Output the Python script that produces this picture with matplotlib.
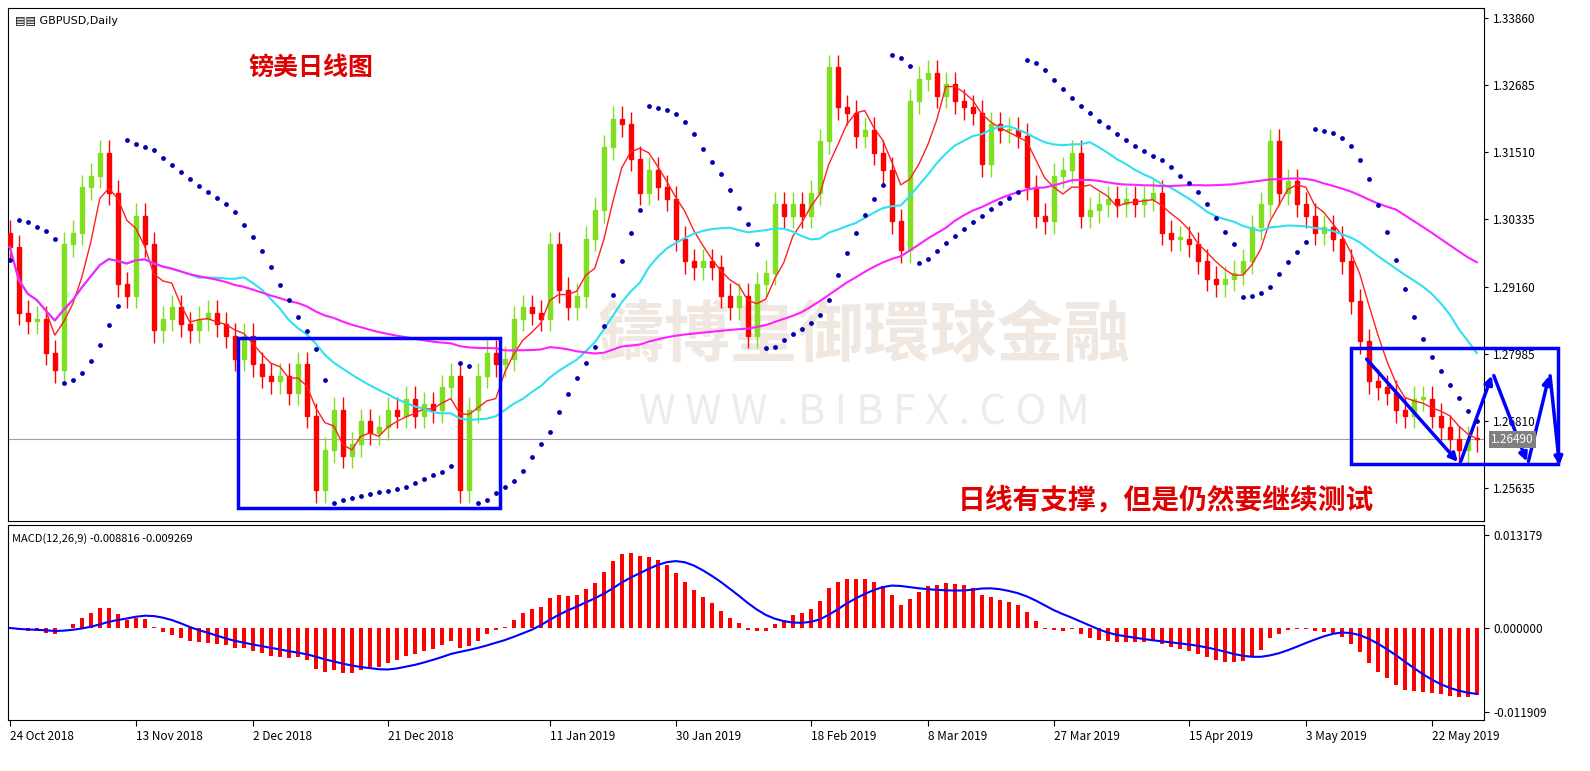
import numpy as np
import pandas as pd
import matplotlib
matplotlib.use("Agg")
import matplotlib.pyplot as plt
from matplotlib.patches import Rectangle

plt.rcParams['font.family'] = ['Noto Sans CJK SC', 'DejaVu Sans']

## data (GBPUSD daily closes)
closes = [1.2985, 1.2870, 1.2855, 1.2860, 1.2800, 1.2770, 1.2990, 1.3010, 1.3090, 1.3110,
          1.3150, 1.3080, 1.2920, 1.2900, 1.3040, 1.2990, 1.2840, 1.2860, 1.2880, 1.2850,
          1.2840, 1.2860, 1.2870, 1.2850, 1.2830, 1.2790, 1.2830, 1.2780, 1.2760, 1.2750,
          1.2760, 1.2730, 1.2780, 1.2690, 1.2560, 1.2630, 1.2700, 1.2620, 1.2640, 1.2680,
          1.2660, 1.2670, 1.2700, 1.2690, 1.2720, 1.2690, 1.2710, 1.2700, 1.2740, 1.2760,
          1.2560, 1.2700, 1.2760, 1.2800, 1.2780, 1.2790, 1.2860, 1.2880, 1.2870, 1.2860,
          1.2990, 1.2910, 1.2880, 1.2900, 1.3000, 1.3050, 1.3160, 1.3210, 1.3200, 1.3140,
          1.3080, 1.3120, 1.3090, 1.3070, 1.3000, 1.2960, 1.2950, 1.2960, 1.2950, 1.2900,
          1.2880, 1.2900, 1.2830, 1.2920, 1.2940, 1.3060, 1.3040, 1.3060, 1.3040, 1.3080,
          1.3170, 1.3300, 1.3230, 1.3220, 1.3180, 1.3190, 1.3150, 1.3120, 1.3030, 1.2980,
          1.3240, 1.3280, 1.3290, 1.3250, 1.3270, 1.3240, 1.3230, 1.3220, 1.3130, 1.3200,
          1.3190, 1.3190, 1.3180, 1.3090, 1.3040, 1.3030, 1.3110, 1.3120, 1.3150, 1.3040,
          1.3050, 1.3060, 1.3070, 1.3060, 1.3070, 1.3060, 1.3070, 1.3080, 1.3010, 1.3000,
          1.3000, 1.2990, 1.2960, 1.2930, 1.2920, 1.2930, 1.2940, 1.2960, 1.3020, 1.3060,
          1.3170, 1.3080, 1.3100, 1.3060, 1.3040, 1.3010, 1.3020, 1.3000, 1.2960, 1.2890,
          1.2820, 1.2750, 1.2740, 1.2730, 1.2700, 1.2690, 1.2720, 1.2720, 1.2690, 1.2670,
          1.2650, 1.2630, 1.2650, 1.2649]
first_open = 1.3010
wick = 0.0022
date_labels = ["24 Oct 2018", "13 Nov 2018", "2 Dec 2018", "21 Dec 2018", "11 Jan 2019",
               "30 Jan 2019", "18 Feb 2019", "8 Mar 2019", "27 Mar 2019", "15 Apr 2019",
               "3 May 2019", "22 May 2019"]
date_bars = [0, 14, 27, 42, 60, 74, 89, 102, 116, 131, 144, 158]
price_ticks = [1.33860, 1.32685, 1.31510, 1.30335, 1.29160, 1.27985, 1.26810, 1.25635]
macd_ticks = [0.013179, 0.0, -0.011909]

c = np.array(closes)
o = np.concatenate([[first_open], c[:-1]])
h = np.maximum(o, c) + wick
l = np.minimum(o, c) - wick
n = len(c)
x = np.arange(n)
s = pd.Series(c)

ma_fast = s.rolling(5, min_periods=1).mean()
ma_mid = s.rolling(21, min_periods=1).mean()
ma_slow = s.rolling(55, min_periods=1).mean()

# parabolic SAR
sar = np.zeros(n)
up = True
af = 0.02
ep = h[0]
sar[0] = l[0]
for i in range(1, n):
    sar[i] = sar[i-1] + af*(ep - sar[i-1])
    if up:
        if l[i] < sar[i]:
            up = False; sar[i] = ep; ep = l[i]; af = 0.02
        elif h[i] > ep:
            ep = h[i]; af = min(af+0.02, 0.2)
    else:
        if h[i] > sar[i]:
            up = True; sar[i] = ep; ep = h[i]; af = 0.02
        elif l[i] < ep:
            ep = l[i]; af = min(af+0.02, 0.2)

macd = s.ewm(span=12).mean() - s.ewm(span=26).mean()
signal = macd.rolling(9, min_periods=1).mean()

## plot
W, H = 1590, 771
fig = plt.figure(figsize=(15.9, 7.71), dpi=100)
def fr(x0, y0, x1, y1):
    return [x0/W, 1-y1/H, (x1-x0)/W, (y1-y0)/H]
ax = fig.add_axes(fr(8, 8, 1484, 521))
ax2 = fig.add_axes(fr(8, 525, 1484, 720))

def p2d(px, py):
    return ((px-10)/9.0, 1.3386-(py-18)*0.000175)

# watermark
ax.text(0.58, 0.36, "鑄博皇御環球金融", transform=ax.transAxes, ha="center", va="center",
        fontsize=48, color="#f0e8e0", family=["Noto Sans CJK TC", "DejaVu Sans"], zorder=0, weight="bold")
ax.text(0.58, 0.21, "W W W . B I B F X . C O M", transform=ax.transAxes, ha="center", va="center",
        fontsize=30, color="#ececec", zorder=0)

for i in x:
    col = "#80e020" if c[i] >= o[i] else "#ff0000"
    ax.vlines(i, l[i], h[i], color=col, lw=1, zorder=2)
    ax.add_patch(Rectangle((i-0.25, min(o[i], c[i])), 0.5, max(abs(c[i]-o[i]), 0.0002),
                           color=col, zorder=3))
ax.plot(x, ma_fast, color="#ff2020", lw=1, zorder=4)
ax.plot(x, ma_mid, color="#30e0f0", lw=1.5, zorder=4)
ax.plot(x, ma_slow, color="#ff20ff", lw=1.5, zorder=4)
ax.scatter(x, sar, s=6, color="#0000b0", zorder=5)
ax.axhline(c[-1], color="#a0a0a0", lw=0.8, zorder=1)

ax.set_xlim(-0.2, n-0.2)
ax.set_ylim(1.25058, 1.34035)
ax.yaxis.tick_right()
ax.set_yticks(price_ticks)
ax.set_yticklabels(["%.5f" % v for v in price_ticks], fontsize=8.5)
ax.set_xticks([])
ax.tick_params(axis="y", length=3)

# boxes and zigzag
b0 = p2d(238, 508); b1 = p2d(500, 338)
ax.add_patch(Rectangle(b0, b1[0]-b0[0], b1[1]-b0[1], fill=False, ec="#0000ff", lw=2.5, zorder=6))
b0 = p2d(1351, 464); b1 = p2d(1558, 348)
ax.add_patch(Rectangle(b0, b1[0]-b0[0], b1[1]-b0[1], fill=False, ec="#0000ff", lw=2.5, zorder=6, clip_on=False))
zz = [p2d(*pt) for pt in [(1365, 357), (1460, 464), (1493, 373), (1528, 464), (1550, 373), (1560, 468)]]
for a, b in zip(zz[:-1], zz[1:]):
    ax.annotate("", xy=b, xytext=a, annotation_clip=False,
                arrowprops=dict(arrowstyle="-|>", color="#0000ff", lw=2.5, mutation_scale=12))
ax.annotate("%.5f" % c[-1], xy=(1.0, c[-1]), xycoords=ax.get_yaxis_transform(),
            xytext=(5, 0), textcoords="offset points", fontsize=8.5, color="white", va="center",
            bbox=dict(fc="#808080", ec="none", pad=1.5), annotation_clip=False)

ax.text(0.005, 0.985, "▤▤ GBPUSD,Daily", transform=ax.transAxes, fontsize=8, va="top",
        family=["DejaVu Sans"])
fig.text(248/W, 1-68/H, "镑美日线图", fontsize=18, color="#e00000", weight="bold", va="center")
fig.text(958/W, 1-500/H, "日线有支撑，但是仍然要继续测试", fontsize=20, color="#e00000",
         weight="bold", va="center")

# MACD
ax2.bar(x, macd, width=0.5, color="#ff0000")
ax2.plot(x, signal, color="#0000ff", lw=1.5)
ax2.set_xlim(ax.get_xlim())
ax2.set_ylim(-0.01305, 0.0146)
ax2.yaxis.tick_right()
ax2.set_yticks(macd_ticks)
ax2.set_yticklabels(["%.6f" % v for v in macd_ticks], fontsize=8.5)
ax2.set_xticks(date_bars)
ax2.set_xticklabels(date_labels, fontsize=8.5, ha="left")
ax2.tick_params(axis="x", length=4)
ax2.text(0.003, 0.96, "MACD(12,26,9) -0.008816 -0.009269", transform=ax2.transAxes,
         fontsize=8, va="top")

fig.savefig("out.png", dpi=100, facecolor="white")
